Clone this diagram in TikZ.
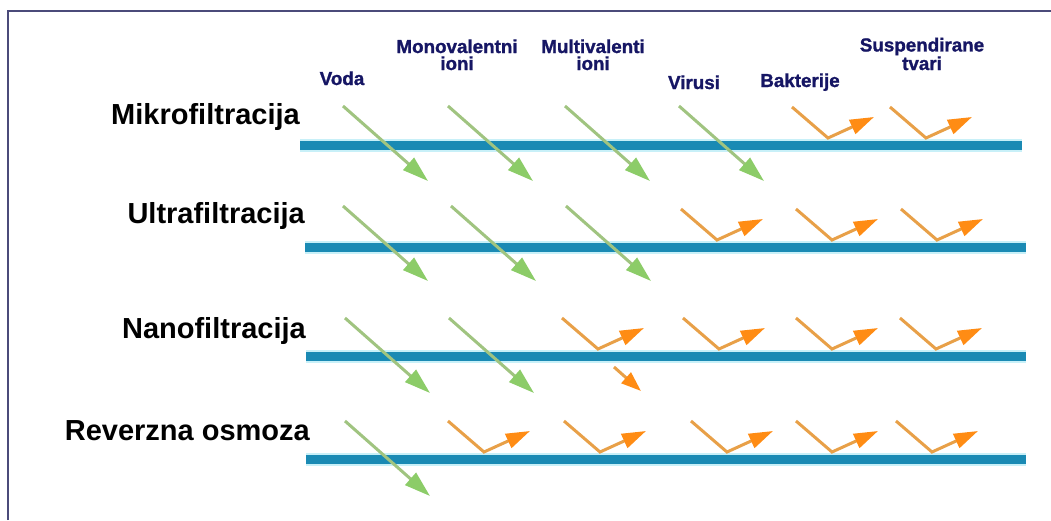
\documentclass[tikz,border=0pt]{standalone}
\usepackage{fontspec}
\setmainfont{Liberation Sans}
\newfontfamily\hdrfont{Liberation Sans Bold}[FakeBold=1.2]
\usetikzlibrary{arrows.meta}
\definecolor{memb}{RGB}{26,138,180}
\definecolor{halo}{RGB}{200,240,248}
\definecolor{passc}{RGB}{160,196,128}
\definecolor{passh}{RGB}{140,204,104}
\definecolor{rejc}{RGB}{232,160,72}
\definecolor{rejh}{RGB}{255,140,20}
\definecolor{navy}{RGB}{22,22,100}
\definecolor{framec}{RGB}{75,75,122}
\tikzset{
  membrane/.style={line width=9pt, draw=memb, preaction={draw=halo, line width=13pt}},
  passline/.style={draw=passc, line width=3pt, -{Triangle[length=26pt,width=16pt,fill=passh,color=passh]}},
  rejline/.style={draw=rejc, line width=3pt, line join=miter, -{Triangle[length=24pt,width=15pt,fill=rejh,color=rejh]}},
  smallrej/.style={draw=rejc, line width=3pt, -{Triangle[length=20pt,width=14pt,fill=rejh,color=rejh]}},
  rowlabel/.style={font=\bfseries\fontsize{29}{30}\selectfont, anchor=base east, inner sep=0pt},
  header/.style={font=\hdrfont\fontsize{18.8}{17}\selectfont, text=navy, align=center, anchor=base, inner sep=0pt},
  pass/.pic={\coordinate (-s) at (0,0); \coordinate (-e) at (85,75); \draw[passline] (-s) -- (-e);},
  reject/.pic={\coordinate (-s) at (0,0); \coordinate (-v) at (36,31); \coordinate (-e) at (82,10); \draw[rejline] (-s) -- (-v) -- (-e);}
}
\begin{document}
\begin{tikzpicture}[x=1pt,y=-1pt]
\useasboundingbox (0,0) rectangle (1051,520);
\fill[white] (0,0) rectangle (1051,520);
% frame
\coordinate (fa) at (8,520);
\coordinate (fb) at (8,11);
\coordinate (fc) at (1051,11);
\draw[framec, line width=2pt] (fa) -- (fb) -- (fc);

% headers
\node[header] (h1) at (342,85) {Voda};
\node[header] (h2) at (457,70) {Monovalentni\\ioni};
\node[header] (h3) at (593,70) {Multivalenti\\ioni};
\node[header] (h4) at (694,89) {Virusi};
\node[header] (h5) at (800,87) {Bakterije};
\node[header] (h6) at (922,70) {Suspendirane\\tvari};

% row labels
\node[rowlabel] (l1) at (300,124) {Mikrofiltracija};
\node[rowlabel] (l2) at (305,223) {Ultrafiltracija};
\node[rowlabel] (l3) at (306,338) {Nanofiltracija};
\node[rowlabel] (l4) at (310,440) {Reverzna osmoza};

% membranes
\coordinate (m1a) at (300,145); \coordinate (m1b) at (1022,145);
\coordinate (m2a) at (305,247); \coordinate (m2b) at (1026,247);
\coordinate (m3a) at (306,356); \coordinate (m3b) at (1026,356);
\coordinate (m4a) at (306,459); \coordinate (m4b) at (1026,459);
\draw[membrane] (m1a) -- (m1b);
\draw[membrane] (m2a) -- (m2b);
\draw[membrane] (m3a) -- (m3b);
\draw[membrane] (m4a) -- (m4b);

% row 1
\pic (p11) at (343,106) {pass};
\pic (p12) at (448,106) {pass};
\pic (p13) at (565,106) {pass};
\pic (p14) at (679,106) {pass};
\pic (r15) at (792,107) {reject};
\pic (r16) at (890,107) {reject};

% row 2
\pic (p21) at (343,206) {pass};
\pic (p22) at (451,206) {pass};
\pic (p23) at (566,206) {pass};
\pic (r24) at (681,209) {reject};
\pic (r25) at (796,209) {reject};
\pic (r26) at (901,209) {reject};

% row 3
\pic (p31) at (345,318) {pass};
\pic (p32) at (449,318) {pass};
\pic (r33) at (562,318) {reject};
\pic (r34) at (683,318) {reject};
\pic (r35) at (796,318) {reject};
\pic (r36) at (900,318) {reject};
\coordinate (s3a) at (614,367);
\coordinate (s3b) at (641,391);
\draw[smallrej] (s3a) -- (s3b);

% row 4
\pic (p41) at (345,421) {pass};
\pic (r42) at (448,421) {reject};
\pic (r43) at (564,421) {reject};
\pic (r44) at (691,421) {reject};
\pic (r45) at (796,421) {reject};
\pic (r46) at (896,421) {reject};
\end{tikzpicture}
\end{document}
